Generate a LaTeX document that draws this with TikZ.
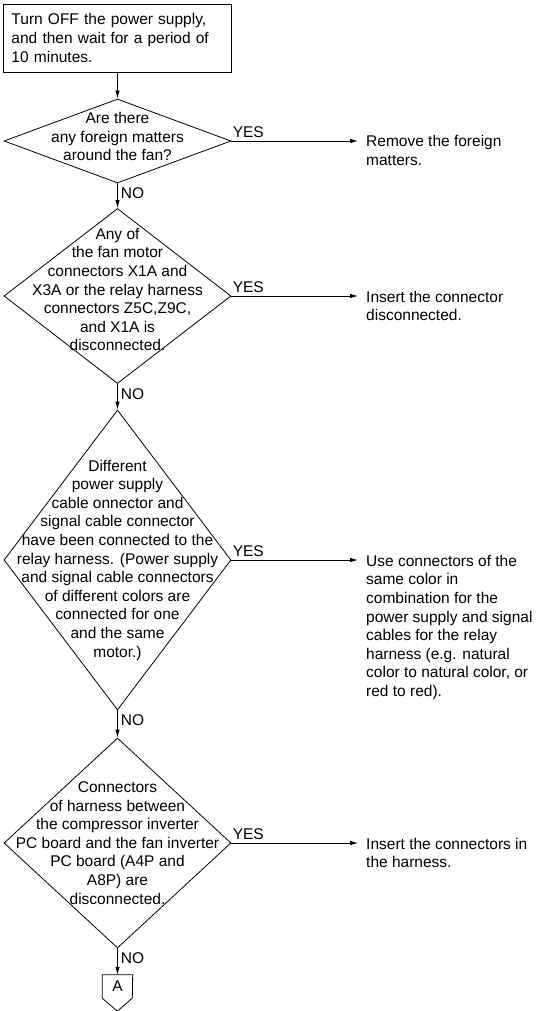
\documentclass[tikz,border=0pt]{standalone}
\usepackage{fontspec}
\setmainfont{Liberation Sans}
\usetikzlibrary{positioning,arrows.meta,shapes.geometric}

\begin{document}
\begin{tikzpicture}[
  x=1pt, y=-1pt,
  every node/.style={font=\fontsize{15.5}{18.6}\selectfont},
  act/.style={draw, rectangle, minimum width=228pt, minimum height=68pt,
              text width=212pt, align=left, inner sep=0pt, line width=0.8pt},
  dec/.style={draw, diamond, minimum width=227pt, inner sep=0pt, line width=0.8pt},
  dtxt/.style={align=center, inner sep=0pt},
  rtxt/.style={anchor=north west, align=left, inner xsep=8pt, inner ysep=0pt},
  arr/.style={-{Latex[length=8pt,width=4.5pt]}, line width=0.8pt},
  yes/.style={anchor=south west, inner xsep=1pt, inner ysep=3pt, pos=0},
  no/.style={anchor=north west, inner xsep=3pt, inner ysep=4pt, pos=0}
]
\useasboundingbox (0,0) rectangle (539,1011);

%% ═══════════════════════════════════════════════
%% Main column
%% ═══════════════════════════════════════════════

\node[act] (s_off) at (117.5,38) {Turn OFF the power supply,\\and then wait for a period of\\10 minutes.};

\node[dec, minimum height=84pt]  (q_dust)  at (117.5,141) {};
\node[dtxt, yshift=4.5pt] (t_dust) at (q_dust)
  {Are there\\any foreign matters\\around the fan?};

\node[dec, minimum height=175pt] (q_conn)  at (117.5,296) {};
\node[dtxt, yshift=6.5pt] (t_conn) at (q_conn)
  {Any of\\the fan motor\\connectors X1A and\\X3A or the relay harness\\connectors Z5C,Z9C,\\and X1A is\\disconnected.};

\node[dec, minimum height=300pt] (q_cable) at (117.5,560) {};
\node[dtxt] (t_cable) at (q_cable)
  {Different\\power supply\\cable onnector and\\signal cable connector\\have been connected to the\\relay harness. (Power supply\\and signal cable connectors\\of different colors are\\connected for one\\and the same\\motor.)};

\node[dec, minimum height=210pt] (q_pcb)   at (117.5,843) {};
\node[dtxt] (t_pcb) at (q_pcb)
  {Connectors\\of harness between\\the compressor inverter\\PC board and the fan inverter\\PC board (A4P and\\A8P) are\\disconnected.};

% off-page connector
\node[minimum width=30pt, minimum height=23pt, inner sep=0pt] (off_a) at (117.5,986.5) {A};
\draw[line width=0.8pt] (off_a.north west) -- (off_a.south west) -- ++(15,13)
     -- ++(15,-13) -- (off_a.north east) -- cycle;

%% ═══════════════════════════════════════════════
%% Remedies
%% ═══════════════════════════════════════════════

\node[rtxt] (r_dust)  at (358,135.3) {Remove the foreign\\matters.};
\node[rtxt] (r_conn)  at (358,290.8) {Insert the connector\\disconnected.};
\node[rtxt] (r_cable) at (358,554.8) {Use connectors of the\\same color in\\combination for the\\power supply and signal\\cables for the relay\\harness (e.g. natural\\color to natural color, or\\red to red).};
\node[rtxt] (r_pcb)   at (358,837.8) {Insert the connectors in\\the harness.};

% NO edges
\draw[arr] (s_off.south)   -- (q_dust.north);
\draw[arr] (q_dust.south)  -- node[no]{NO} (q_conn.north);
\draw[arr] (q_conn.south)  -- node[no]{NO} (q_cable.north);
\draw[arr] (q_cable.south) -- node[no]{NO} (q_pcb.north);
\draw[arr] (q_pcb.south)   -- node[no]{NO} (off_a.north);

% YES edges
\draw[arr] (q_dust.east)  -- node[yes]{YES} (q_dust.east -| r_dust.west);
\draw[arr] (q_conn.east)  -- node[yes]{YES} (q_conn.east -| r_conn.west);
\draw[arr] (q_cable.east) -- node[yes]{YES} (q_cable.east -| r_cable.west);
\draw[arr] (q_pcb.east)   -- node[yes]{YES} (q_pcb.east -| r_pcb.west);

\end{tikzpicture}
\end{document}
